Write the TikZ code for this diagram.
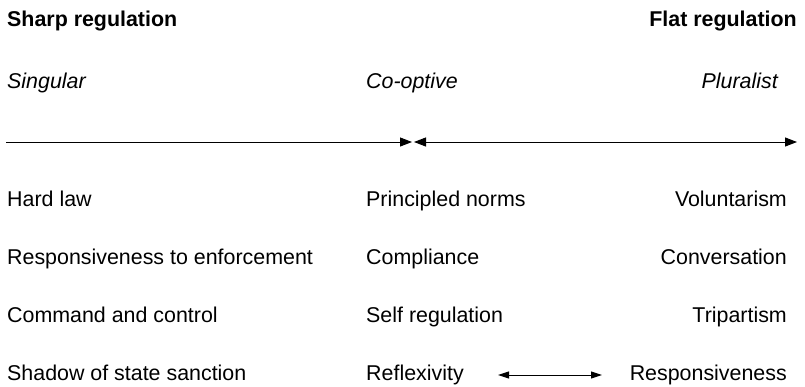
\documentclass[tikz,border=0pt]{standalone}
\usepackage{fontspec}
\setmainfont{Liberation Sans}
\usetikzlibrary{arrows.meta}
\begin{document}
\begin{tikzpicture}[x=1pt,y=-1pt,
  lbl/.style={inner sep=0pt,font=\fontsize{21.4}{24}\selectfont},
  head/.style={lbl,font=\fontsize{21.4}{24}\selectfont\bfseries},
  kind/.style={lbl,font=\fontsize{21.4}{24}\selectfont\itshape},
  axis/.style={line width=1pt,-{Triangle[length=12pt,width=9pt]}},
  axis2/.style={line width=1pt,{Triangle[length=12pt,width=9pt]}-{Triangle[length=12pt,width=9pt]}},
  link/.style={line width=1pt,{Triangle[length=11pt,width=7pt]}-{Triangle[length=11pt,width=7pt]}}]
\useasboundingbox (0,0) rectangle (805,386);
% headings
\node[head,anchor=base west] (sharp) at (7,26.5) {Sharp regulation};
\node[head,anchor=base east] (flat) at (797,26.5) {Flat regulation};
% regulatory styles
\node[kind,anchor=base west] (sing) at (7,88) {Singular};
\node[kind,anchor=base west] (coop) at (366,88) {Co-optive};
\node[kind,anchor=base east] (plur) at (778,88) {Pluralist};
% spectrum axis
\coordinate (axL) at (6,142);
\coordinate (axM1) at (412,142);
\coordinate (axM2) at (414,142);
\coordinate (axR) at (797,142);
\draw[axis] (axL) -- (axM1);
\draw[axis2] (axM2) -- (axR);
% left column
\node[lbl,anchor=base west] (l1) at (7,206) {Hard law};
\node[lbl,anchor=base west] (l2) at (7,264) {Responsiveness to enforcement};
\node[lbl,anchor=base west] (l3) at (7,322) {Command and control};
\node[lbl,anchor=base west] (l4) at (7,380) {Shadow of state sanction};
% middle column
\node[lbl,anchor=base west] (m1) at (366,206) {Principled norms};
\node[lbl,anchor=base west] (m2) at (366,264) {Compliance};
\node[lbl,anchor=base west] (m3) at (366,322) {Self regulation};
\node[lbl,anchor=base west] (m4) at (366,380) {Reflexivity};
% right column
\node[lbl,anchor=base east] (r1) at (787,206) {Voluntarism};
\node[lbl,anchor=base east] (r2) at (787,264) {Conversation};
\node[lbl,anchor=base east] (r3) at (787,322) {Tripartism};
\node[lbl,anchor=base east] (r4) at (787,380) {Responsiveness};
% link between reflexivity and responsiveness
\coordinate (bL) at (498,375);
\coordinate (bR) at (602,375);
\draw[link] (bL) -- (bR);
\end{tikzpicture}
\end{document}
